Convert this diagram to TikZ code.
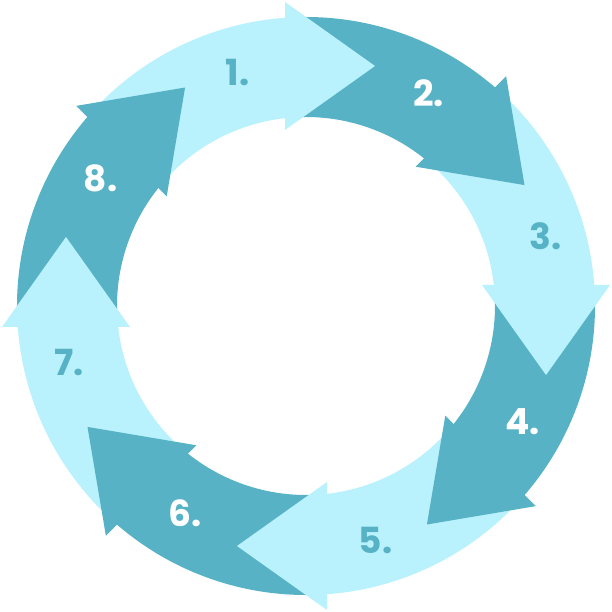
\documentclass[tikz,border=0pt]{standalone}
\usepackage{fontspec}
\newfontfamily\numfont{Poppins}
\definecolor{ringcyan}{RGB}{185,242,253}
\definecolor{ringteal}{RGB}{87,178,198}
\tikzset{
  numlabel/.style={font=\numfont\bfseries\fontsize{36}{36}\selectfont},
}

\begin{document}
\begin{tikzpicture}[x=1pt,y=1pt]
            \useasboundingbox (-306,-306) rectangle (306,306);
            % ring pieces first (both ends tucked under a head), heads on top
            \foreach \i/\c in {0/ringcyan,1/ringteal,2/ringcyan,3/ringteal,4/ringcyan,5/ringteal,6/ringcyan,7/ringteal}
                \fill[\c, rotate=-45*\i] (137:289) arc [start angle=137,end angle=92.5,radius=289]
                    -- (94.5:189) arc [start angle=94.5,end angle=139,radius=189] -- cycle;
            \foreach \i/\c in {0/ringcyan,1/ringteal,2/ringcyan,3/ringteal,4/ringcyan,5/ringteal,6/ringcyan,7/ringteal}
                \fill[\c, rotate=-45*\i] (-21,304) -- (69,240) -- (-21,176) -- cycle;
            \node[numlabel, text=ringteal] (n1) at (-68.5,233.5) {1.};
            \node[numlabel, text=white] (n2) at (122.5,212.5) {2.};
            \node[numlabel, text=ringteal] (n3) at (239.5,70) {3.};
            \node[numlabel, text=white] (n4) at (216.5,-116) {4.};
            \node[numlabel, text=ringteal] (n5) at (69.5,-234) {5.};
            \node[numlabel, text=white] (n6) at (-121,-207) {6.};
            \node[numlabel, text=ringteal] (n7) at (-237,-57) {7.};
            \node[numlabel, text=white] (n8) at (-205.5,128) {8.};
        \end{tikzpicture}
\end{document}
